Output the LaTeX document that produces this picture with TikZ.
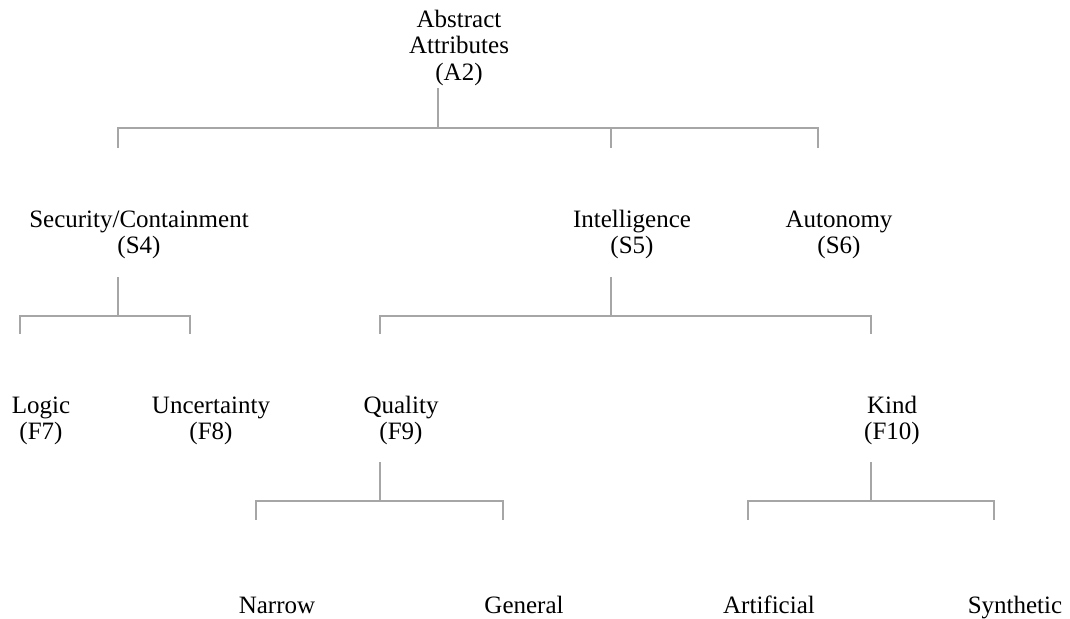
\documentclass[tikz,border=0pt]{standalone}
\usepackage{fontspec}
\setmainfont{Liberation Serif}
\begin{document}
\begin{tikzpicture}[x=1pt,y=-1pt,
  lbl/.style={anchor=base,inner sep=0pt,font=\fontsize{25}{26}\selectfont,text=black},
  conn/.style={draw=gray!70,line width=1.6pt}]
\useasboundingbox (0,0) rectangle (1070,618);
% nodes (text centre = connector x + 21)
\node[lbl] (A2) at (459,28) {\begin{tabular}[t]{@{}c@{}}Abstract\\Attributes\\(A2)\end{tabular}};
\node[lbl] (S4) at (139,227) {\begin{tabular}[t]{@{}c@{}}Security/Containment\\(S4)\end{tabular}};
\node[lbl] (S5) at (632,227) {\begin{tabular}[t]{@{}c@{}}Intelligence\\(S5)\end{tabular}};
\node[lbl] (S6) at (839,227) {\begin{tabular}[t]{@{}c@{}}Autonomy\\(S6)\end{tabular}};
\node[lbl] (F7) at (41,413) {\begin{tabular}[t]{@{}c@{}}Logic\\(F7)\end{tabular}};
\node[lbl] (F8) at (211,413) {\begin{tabular}[t]{@{}c@{}}Uncertainty\\(F8)\end{tabular}};
\node[lbl] (F9) at (401,413) {\begin{tabular}[t]{@{}c@{}}Quality\\(F9)\end{tabular}};
\node[lbl] (F10) at (892,413) {\begin{tabular}[t]{@{}c@{}}Kind\\(F10)\end{tabular}};
\node[lbl] (nar) at (277,613) {\begin{tabular}[t]{@{}c@{}}Narrow\end{tabular}};
\node[lbl] (gen) at (524,613) {\begin{tabular}[t]{@{}c@{}}General\end{tabular}};
\node[lbl] (art) at (769,613) {\begin{tabular}[t]{@{}c@{}}Artificial\end{tabular}};
\node[lbl] (syn) at (1015,613) {\begin{tabular}[t]{@{}c@{}}Synthetic\end{tabular}};
% level 0 -> 1
\foreach \c in {S4,S5,S6}
  \draw[conn] ([xshift=-21]A2.south) -- ++(0,40) -| ([shift={(-21,-61)}]\c.north);
% level 1 -> 2
\foreach \c in {F7,F8}
  \draw[conn] ([shift={(-21,16)}]S4.south) -- ++(0,39) -| ([shift={(-21,-61)}]\c.north);
\foreach \c in {F9,F10}
  \draw[conn] ([shift={(-21,16)}]S5.south) -- ++(0,39) -| ([shift={(-21,-61)}]\c.north);
% level 2 -> 3
\foreach \c in {nar,gen}
  \draw[conn] ([shift={(-21,15)}]F9.south) -- ++(0,39) -| ([shift={(-21,-75)}]\c.north);
\foreach \c in {art,syn}
  \draw[conn] ([shift={(-21,15)}]F10.south) -- ++(0,39) -| ([shift={(-21,-75)}]\c.north);
\end{tikzpicture}
\end{document}
